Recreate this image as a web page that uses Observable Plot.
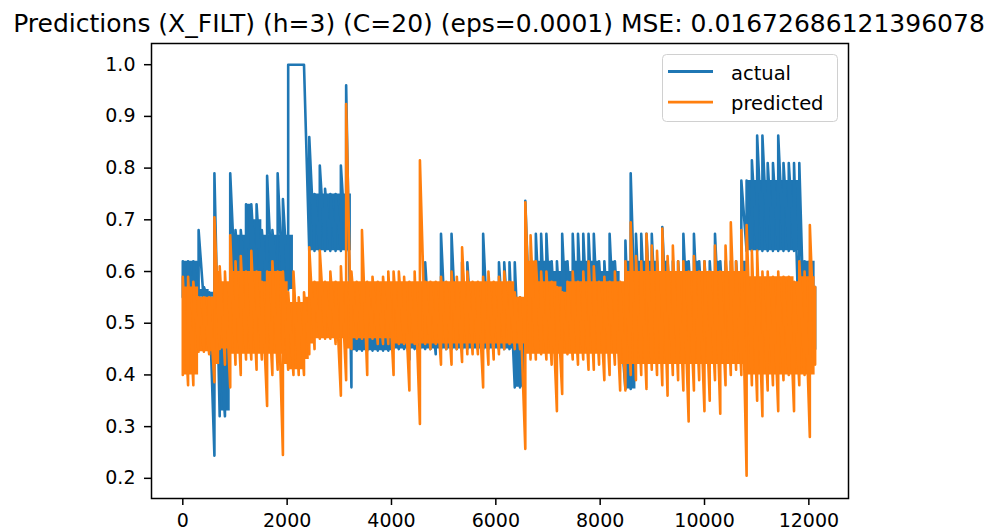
<!DOCTYPE html>
<html>
<head>
<meta charset="utf-8">
<script src="https://cdn.jsdelivr.net/npm/d3@7"></script>
<script src="https://cdn.jsdelivr.net/npm/@observablehq/plot@0.6"></script>
<style>
  html, body { margin: 0; padding: 0; background: #fff; }
  body { width: 990px; height: 532px; position: relative; overflow: hidden; font-family: "DejaVu Sans", sans-serif; }
  #title { position: relative; height: 40px; }
  #title span { position: absolute; left: 499px; top: 9px; transform: translateX(-50%); font-size: 25px; line-height: normal; white-space: nowrap; color: #000; }
  #legend { position: absolute; left: 0; top: 0; pointer-events: none; }
</style>
</head>
<body>
<div id="title"><span>Predictions (X_FILT) (h=3) (C=20) (eps=0.0001) MSE: 0.01672686121396078</span></div>
<div id="chart"></div>
<script>
// Series names and colours
const seriesNames = ["actual", "predicted"];
const seriesColors = ["#1f77b4", "#ff7f0e"];

// Axis ticks
const xTicks = [0, 2000, 4000, 6000, 8000, 10000, 12000];
const yTicks = [0.2, 0.3, 0.4, 0.5, 0.6, 0.7, 0.8, 0.9, 1.0];

// Sample spacing (index units) of the read-off values below
const step = 101;

const actualLo = [
  0.55,0.56,0.56,0.54,0.54,0.54,0.244,0.32,0.32,0.56,
  0.56,0.56,0.56,0.56,0.56,0.56,0.56,0.56,0.565,0.565,
  0.565,1.0,1.0,1.0,0.64,0.64,0.64,0.64,0.64,0.64,
  0.64,0.64,0.376,0.447,0.447,0.447,0.447,0.447,0.447,0.447,
  0.45,0.45,0.45,0.43,0.45,0.45,0.45,0.45,0.44,0.45,
  0.45,0.45,0.45,0.45,0.45,0.45,0.45,0.45,0.45,0.45,
  0.45,0.45,0.45,0.376,0.376,0.45,0.45,0.45,0.45,0.45,
  0.45,0.45,0.45,0.45,0.45,0.45,0.45,0.45,0.45,0.45,
  0.45,0.45,0.45,0.45,0.373,0.373,0.45,0.45,0.45,0.45,
  0.45,0.45,0.45,0.45,0.45,0.45,0.45,0.45,0.45,0.45,
  0.45,0.45,0.45,0.45,0.45,0.45,0.45,0.64,0.64,0.64,
  0.64,0.64,0.64,0.64,0.64,0.64,0.64,0.45,0.45,0.45,0.45
];
const actualHi = [
  0.62,0.62,0.62,0.68,0.57,0.56,0.79,0.47,0.47,0.79,
  0.68,0.68,0.73,0.73,0.73,0.68,0.785,0.68,0.79,0.74,
  1.0,1.0,1.0,1.0,0.86,0.75,0.805,0.76,0.75,0.75,
  0.805,0.96,0.5,0.5,0.5,0.5,0.5,0.5,0.5,0.5,
  0.49,0.5,0.5,0.5,0.5,0.53,0.618,0.55,0.52,0.673,
  0.53,0.673,0.53,0.618,0.618,0.56,0.56,0.673,0.56,0.56,
  0.618,0.618,0.618,0.618,0.55,0.737,0.618,0.673,0.673,0.673,
  0.62,0.62,0.673,0.62,0.673,0.673,0.673,0.673,0.673,0.62,
  0.62,0.673,0.62,0.51,0.66,0.79,0.673,0.673,0.673,0.673,
  0.62,0.686,0.62,0.62,0.62,0.673,0.62,0.673,0.62,0.62,
  0.62,0.673,0.62,0.62,0.62,0.62,0.776,0.776,0.815,0.863,
  0.863,0.81,0.81,0.863,0.81,0.81,0.81,0.81,0.62,0.62,0.57
];
// actual: dense core band (where the trace fills solidly)
const actualCoreLo = [
  0.56,0.56,0.56,0.55,0.55,0.55,0.45,0.33,0.33,0.565,
  0.565,0.565,0.565,0.565,0.565,0.565,0.565,0.565,0.565,0.565,
  0.565,1.0,1.0,1.0,0.64,0.64,0.64,0.64,0.64,0.64,
  0.64,0.64,0.447,0.447,0.447,0.447,0.447,0.447,0.447,0.447,
  0.45,0.45,0.45,0.45,0.45,0.45,0.45,0.45,0.45,0.45,
  0.45,0.45,0.45,0.45,0.45,0.45,0.45,0.45,0.45,0.45,
  0.45,0.45,0.45,0.376,0.376,0.45,0.45,0.45,0.45,0.45,
  0.45,0.45,0.45,0.45,0.45,0.45,0.45,0.45,0.45,0.45,
  0.45,0.45,0.45,0.45,0.373,0.373,0.45,0.45,0.45,0.45,
  0.45,0.45,0.45,0.45,0.45,0.45,0.45,0.45,0.45,0.45,
  0.45,0.45,0.45,0.45,0.45,0.45,0.45,0.64,0.64,0.64,
  0.64,0.64,0.64,0.64,0.64,0.64,0.64,0.45,0.45,0.45,0.45
];
const actualCoreHi = [
  0.62,0.62,0.62,0.565,0.565,0.56,0.55,0.46,0.46,0.67,
  0.67,0.67,0.73,0.70,0.70,0.67,0.67,0.67,0.67,0.67,
  0.67,1.0,1.0,1.0,0.75,0.75,0.75,0.75,0.75,0.75,
  0.75,0.75,0.50,0.50,0.50,0.50,0.50,0.50,0.50,0.50,
  0.50,0.50,0.50,0.50,0.50,0.50,0.50,0.50,0.50,0.50,
  0.50,0.50,0.50,0.50,0.50,0.50,0.50,0.50,0.50,0.50,
  0.50,0.50,0.50,0.50,0.50,0.55,0.62,0.62,0.62,0.62,
  0.60,0.60,0.62,0.60,0.62,0.62,0.62,0.62,0.62,0.60,
  0.60,0.62,0.60,0.50,0.62,0.62,0.62,0.62,0.62,0.62,
  0.60,0.62,0.60,0.60,0.60,0.62,0.60,0.62,0.60,0.60,
  0.60,0.62,0.60,0.60,0.60,0.60,0.62,0.776,0.776,0.776,
  0.776,0.776,0.776,0.776,0.776,0.776,0.776,0.62,0.62,0.62,0.57
];

const predLo = [
  0.40,0.38,0.38,0.445,0.445,0.44,0.386,0.45,0.42,0.376,
  0.42,0.40,0.43,0.43,0.41,0.43,0.34,0.40,0.41,0.245,
  0.41,0.40,0.40,0.40,0.44,0.45,0.47,0.47,0.47,0.46,
  0.36,0.39,0.45,0.47,0.47,0.40,0.47,0.46,0.46,0.46,
  0.40,0.46,0.46,0.37,0.46,0.305,0.46,0.45,0.46,0.42,
  0.45,0.42,0.45,0.425,0.44,0.44,0.44,0.376,0.42,0.43,
  0.44,0.45,0.46,0.45,0.45,0.257,0.43,0.43,0.44,0.43,
  0.42,0.33,0.363,0.44,0.43,0.42,0.43,0.41,0.41,0.42,
  0.39,0.40,0.42,0.37,0.37,0.40,0.39,0.40,0.373,0.41,
  0.40,0.38,0.36,0.40,0.39,0.37,0.31,0.37,0.39,0.33,
  0.35,0.39,0.325,0.38,0.40,0.41,0.40,0.205,0.38,0.35,
  0.32,0.37,0.38,0.33,0.39,0.40,0.33,0.38,0.40,0.28,0.42
];
const predHi = [
  0.59,0.59,0.58,0.55,0.55,0.55,0.705,0.61,0.60,0.67,
  0.62,0.63,0.60,0.64,0.60,0.58,0.60,0.62,0.60,0.60,
  0.56,0.60,0.55,0.56,0.647,0.58,0.64,0.58,0.60,0.58,
  0.61,0.924,0.60,0.58,0.68,0.58,0.59,0.58,0.59,0.60,
  0.60,0.60,0.59,0.58,0.60,0.815,0.58,0.58,0.58,0.59,
  0.58,0.60,0.59,0.647,0.60,0.58,0.58,0.59,0.60,0.58,
  0.59,0.60,0.58,0.56,0.55,0.734,0.67,0.62,0.60,0.60,
  0.58,0.57,0.56,0.58,0.60,0.58,0.60,0.62,0.61,0.58,
  0.59,0.58,0.60,0.58,0.62,0.695,0.63,0.62,0.673,0.65,
  0.64,0.683,0.63,0.65,0.62,0.62,0.60,0.63,0.60,0.62,
  0.60,0.65,0.60,0.65,0.695,0.62,0.68,0.69,0.64,0.64,
  0.60,0.60,0.59,0.60,0.59,0.59,0.58,0.62,0.60,0.69,0.57
];
// predicted: dense core band
const predCoreLo = [
  0.40,0.40,0.40,0.445,0.445,0.445,0.42,0.45,0.45,0.44,
  0.44,0.44,0.44,0.44,0.44,0.44,0.44,0.44,0.44,0.42,
  0.41,0.41,0.41,0.43,0.46,0.47,0.47,0.47,0.47,0.47,
  0.47,0.45,0.47,0.47,0.47,0.47,0.47,0.47,0.47,0.47,
  0.46,0.46,0.46,0.46,0.46,0.46,0.46,0.46,0.46,0.46,
  0.46,0.46,0.46,0.46,0.46,0.46,0.46,0.46,0.46,0.46,
  0.46,0.46,0.46,0.46,0.46,0.44,0.44,0.44,0.44,0.44,
  0.44,0.44,0.44,0.44,0.44,0.44,0.44,0.44,0.44,0.44,
  0.44,0.44,0.44,0.42,0.42,0.42,0.42,0.42,0.42,0.42,
  0.42,0.42,0.42,0.42,0.42,0.42,0.42,0.42,0.42,0.42,
  0.42,0.42,0.42,0.42,0.42,0.42,0.42,0.40,0.40,0.40,
  0.40,0.40,0.40,0.40,0.40,0.40,0.40,0.40,0.40,0.40,0.42
];
const predCoreHi = [
  0.57,0.57,0.57,0.55,0.55,0.55,0.60,0.58,0.58,0.60,
  0.60,0.60,0.60,0.60,0.60,0.58,0.60,0.60,0.60,0.58,
  0.54,0.54,0.54,0.55,0.58,0.58,0.58,0.58,0.58,0.58,
  0.58,0.58,0.58,0.58,0.58,0.58,0.58,0.58,0.58,0.58,
  0.58,0.58,0.58,0.58,0.58,0.58,0.58,0.58,0.58,0.58,
  0.58,0.58,0.58,0.58,0.58,0.58,0.58,0.58,0.58,0.58,
  0.58,0.58,0.58,0.55,0.55,0.62,0.62,0.58,0.58,0.58,
  0.58,0.57,0.56,0.58,0.58,0.58,0.58,0.58,0.58,0.58,
  0.58,0.58,0.58,0.58,0.60,0.60,0.60,0.60,0.60,0.60,
  0.60,0.60,0.60,0.60,0.60,0.60,0.60,0.60,0.60,0.60,
  0.60,0.60,0.60,0.60,0.60,0.60,0.60,0.59,0.59,0.59,
  0.59,0.59,0.59,0.59,0.59,0.59,0.58,0.59,0.59,0.59,0.57
];

// Trace sequence: at each sample a vertical excursion low -> high
function trace(lo, hi) {
  const pts = [];
  lo.forEach((v, i) => {
    pts.push({x: i * step, y: v});
    pts.push({x: i * step, y: hi[i]});
  });
  return pts;
}
function band(lo, hi) {
  return lo.map((v, i) => ({x: i * step, lo: v, hi: hi[i]}));
}
const actualPts = trace(actualLo, actualHi);
const predPts = trace(predLo, predHi);
const actualBand = band(actualCoreLo, actualCoreHi);
const predBand = band(predCoreLo, predCoreHi);

const W = 990, H = 492;
const lw = 2.6;
const chart = Plot.plot({
  width: W,
  height: H,
  marginLeft: 151,
  marginRight: 142,
  marginTop: 3,
  marginBottom: 34,
  style: {fontFamily: "DejaVu Sans, sans-serif", fontSize: "19px", color: "#000", background: "#fff", overflow: "visible"},
  x: {domain: [-600, 12760], label: null},
  y: {domain: [0.161, 1.041], label: null},
  marks: [
    Plot.areaY(actualBand, {x: "x", y1: "lo", y2: "hi", curve: "step-after", fill: seriesColors[0]}),
    Plot.line(actualPts, {x: "x", y: "y", stroke: seriesColors[0], strokeWidth: lw, strokeLinejoin: "round"}),
    Plot.areaY(predBand, {x: "x", y1: "lo", y2: "hi", curve: "step-after", fill: seriesColors[1]}),
    Plot.line(predPts, {x: "x", y: "y", stroke: seriesColors[1], strokeWidth: lw, strokeLinejoin: "round"}),
    Plot.frame({stroke: "#000", strokeWidth: 1.5}),
    Plot.axisX({ticks: xTicks, tickFormat: d => String(d), tickSize: 7, tickPadding: 8, strokeWidth: 1.5, label: null}),
    Plot.axisY({ticks: yTicks, tickFormat: d3.format(".1f"), tickSize: 7, tickPadding: 9, strokeWidth: 1.5, label: null})
  ]
});
document.getElementById("chart").appendChild(chart);

// Legend overlay (inside the axes, upper right)
const ns = "http://www.w3.org/2000/svg";
const leg = document.createElementNS(ns, "svg");
leg.setAttribute("id", "legend");
leg.setAttribute("width", W);
leg.setAttribute("height", 532);
const box = document.createElementNS(ns, "rect");
box.setAttribute("x", 662.5); box.setAttribute("y", 54.5);
box.setAttribute("width", 175); box.setAttribute("height", 67);
box.setAttribute("rx", 4); box.setAttribute("fill", "rgba(255,255,255,0.8)");
box.setAttribute("stroke", "#d0d0d0"); box.setAttribute("stroke-width", 1);
leg.appendChild(box);
seriesNames.forEach((name, i) => {
  const yy = 71.5 + i * 30.7;
  const ln = document.createElementNS(ns, "line");
  ln.setAttribute("x1", 668); ln.setAttribute("x2", 713);
  ln.setAttribute("y1", yy); ln.setAttribute("y2", yy);
  ln.setAttribute("stroke", seriesColors[i]); ln.setAttribute("stroke-width", 2.8);
  leg.appendChild(ln);
  const tx = document.createElementNS(ns, "text");
  tx.setAttribute("x", 731); tx.setAttribute("y", yy + 8);
  tx.setAttribute("font-family", "DejaVu Sans, sans-serif");
  tx.setAttribute("font-size", "19.5px");
  tx.setAttribute("fill", "#000");
  tx.textContent = name;
  leg.appendChild(tx);
});
document.body.appendChild(leg);
</script>
</body>
</html>
